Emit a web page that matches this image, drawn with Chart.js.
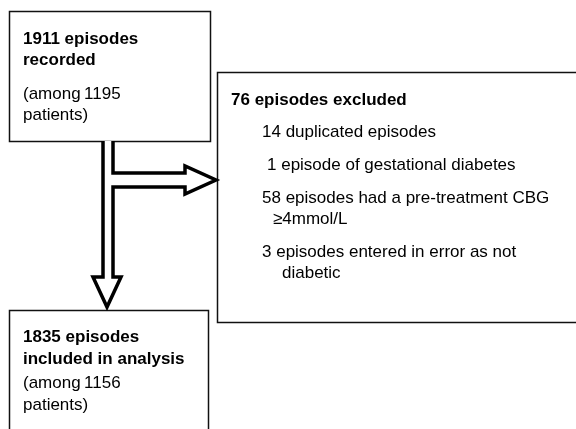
<!DOCTYPE html>
<html lang="en">
<head>
    <meta charset="UTF-8">
    <title>Episodes flow diagram</title>
    <script src="https://cdn.jsdelivr.net/npm/chart.js"></script>
    <style>
        body { margin: 0; background-color: #fff; }
        #flow { display: block; }
    </style>
</head>
<body>
    <canvas id="flow" width="576" height="429"></canvas>

    <script>
        // --- Data ---
        const episodeCounts = [1911, 76, 1835];      // recorded, excluded, included
        const patientCounts = [1195, 1156];          // recorded, included
        const exclusionCounts = [14, 1, 58, 3];
        const exclusionReasons = [
            ['duplicated episodes'],
            ['episode of gestational diabetes'],
            ['episodes had a pre-treatment CBG', '\u22654mmol/L'],
            ['episodes entered in error as not', 'diabetic']
        ];

        // Layout in diagram units (same as pixels here)
        const boxes = [
            { x0: 9, y0: 11, x1: 210, y1: 141 },
            { x0: 217, y0: 72, x1: 590, y1: 322 },
            { x0: 9, y0: 310, x1: 208, y1: 450 }
        ];
        const arrowPath = [
            [103, 141], [103, 277], [93, 277], [107, 307], [121, 277], [113, 277],
            [113, 187], [185, 187], [185, 194], [216, 180], [185, 166], [185, 173],
            [113, 173], [113, 141]
        ];

        const boldFont = 'bold 17px "Liberation Sans", Arial, sans-serif';
        const plainFont = '17px "Liberation Sans", Arial, sans-serif';

        // text lines: [x, baseline y, font, string]
        function buildLines() {
            const lines = [
                [23, 44, boldFont, episodeCounts[0] + ' episodes'],
                [23, 65, boldFont, 'recorded'],
                [23, 99, plainFont, '(among\u2009' + patientCounts[0]],
                [23, 120, plainFont, 'patients)'],
                [231, 105, boldFont, episodeCounts[1] + ' episodes excluded'],
                [23, 342, boldFont, episodeCounts[2] + ' episodes'],
                [23, 364, boldFont, 'included in analysis'],
                [23, 388, plainFont, '(among\u2009' + patientCounts[1]],
                [23, 410, plainFont, 'patients)']
            ];
            const reasonY = [137, 170, 203, 257];
            const firstX = [262, 267, 262, 262];
            const wrapX = [0, 0, 273, 282];
            exclusionCounts.forEach((n, i) => {
                lines.push([firstX[i], reasonY[i], plainFont, n + ' ' + exclusionReasons[i][0]]);
                if (exclusionReasons[i][1]) {
                    lines.push([wrapX[i], reasonY[i] + 21, plainFont, exclusionReasons[i][1]]);
                }
            });
            return lines;
        }

        const flowPlugin = {
            id: 'flowDiagram',
            afterDraw(chart) {
                const ctx = chart.ctx;
                const xs = chart.scales.x;
                const ys = chart.scales.y;
                const px = v => xs.getPixelForValue(v);
                const py = v => ys.getPixelForValue(v);

                ctx.save();
                // boxes
                ctx.strokeStyle = '#111';
                ctx.lineWidth = 1.5;
                boxes.forEach(b => {
                    ctx.strokeRect(px(b.x0) + 0.5, py(b.y0) + 0.5, px(b.x1) - px(b.x0), py(b.y1) - py(b.y0));
                });

                // hollow T arrow
                ctx.beginPath();
                arrowPath.forEach((p, i) => {
                    if (i === 0) ctx.moveTo(px(p[0]), py(p[1]));
                    else ctx.lineTo(px(p[0]), py(p[1]));
                });
                ctx.fillStyle = '#fff';
                ctx.fill();
                ctx.strokeStyle = '#000';
                ctx.lineWidth = 3.5;
                ctx.lineJoin = 'miter';
                ctx.stroke();

                // text
                ctx.fillStyle = '#000';
                ctx.textBaseline = 'alphabetic';
                ctx.textAlign = 'left';
                buildLines().forEach(l => {
                    ctx.font = l[2];
                    ctx.fillText(l[3], px(l[0]), py(l[1]));
                });
                ctx.restore();
            }
        };

        new Chart(document.getElementById('flow'), {
            type: 'scatter',
            data: { datasets: [{ data: [] }] },
            options: {
                responsive: false,
                animation: false,
                layout: { padding: 0 },
                plugins: { legend: { display: false }, tooltip: { enabled: false } },
                scales: {
                    x: { type: 'linear', min: 0, max: 576, display: false },
                    y: { type: 'linear', min: 0, max: 429, reverse: true, display: false }
                }
            },
            plugins: [flowPlugin]
        });
    </script>
</body>
</html>
